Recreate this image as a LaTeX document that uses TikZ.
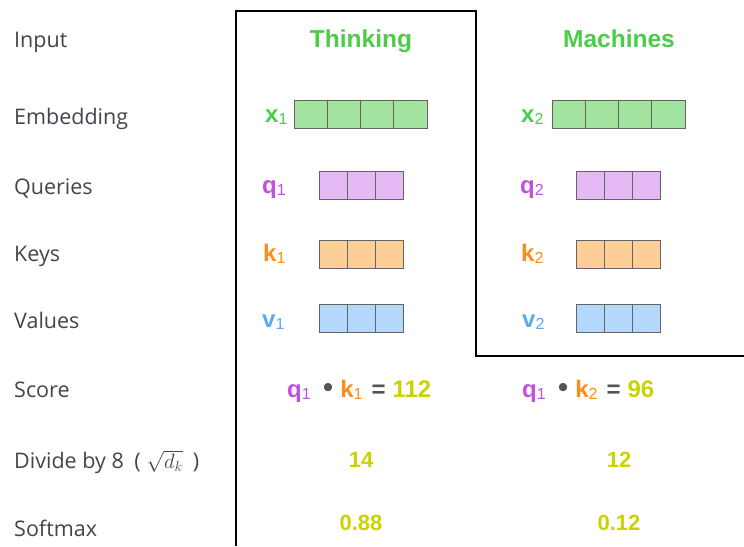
\documentclass[tikz,border=0pt]{standalone}
\usepackage{fontspec}
\setmainfont{Open Sans}
\newfontfamily\hv{Liberation Sans}
\definecolor{labelgray}{RGB}{66,70,76}
\definecolor{wgreen}{RGB}{76,204,72}
\definecolor{qpurple}{RGB}{192,80,225}
\definecolor{korange}{RGB}{255,140,26}
\definecolor{vblue}{RGB}{90,170,245}
\definecolor{numyellow}{RGB}{204,210,0}
\definecolor{opgray}{RGB}{80,85,90}
\definecolor{fgreen}{RGB}{163,228,160}
\definecolor{fpurple}{RGB}{229,185,243}
\definecolor{forange}{RGB}{253,206,150}
\definecolor{fblue}{RGB}{180,216,251}
\definecolor{cellgray}{RGB}{100,100,100}
\newcommand\vlab[2]{{\bfseries #1}\raisebox{-2pt}{\fontsize{16}{16}\selectfont #2}}
\newcommand\vecrow[6]{%
  \foreach \i in {1,...,#4}
    \node[cell, fill=#6, minimum width=#5] (#1-\i) at ({#2+(\i-0.5)*#5}, #3) {};}
\begin{document}
\begin{tikzpicture}[x=1pt,y=-1pt,
  rowlabel/.style={anchor=base west, inner sep=0, font=\fontsize{21.5}{24}\selectfont, text=labelgray},
  word/.style={anchor=base, inner sep=0, font=\hv\bfseries\fontsize{24.5}{26}\selectfont, text=wgreen},
  vlabel/.style={anchor=base west, inner sep=0, font=\hv\fontsize{24}{26}\selectfont},
  num/.style={anchor=base, inner sep=0, font=\hv\bfseries\fontsize{22}{24}\selectfont, text=numyellow},
  cell/.style={draw=cellgray, line width=1pt, minimum height=28, inner sep=0},
  frame/.style={draw=black, line width=2pt}]
\useasboundingbox (0,0) rectangle (744,546);
\fill[white] (0,0) rectangle (744,546);
% row labels
\node[rowlabel] (lInput) at (14,47) {Input};
\node[rowlabel] (lEmb) at (14,124) {Embedding};
\node[rowlabel] (lQ) at (14,194) {Queries};
\node[rowlabel] (lK) at (14,261) {Keys};
\node[rowlabel] (lV) at (14,328) {Values};
\node[rowlabel] (lS) at (14,397) {Score};
\node[rowlabel] (lD) at (14,468) {Divide by 8\hspace{5pt} (\hspace{6pt}{\fontsize{20}{20}\selectfont$\sqrt{d_k}$}\hspace{10pt})};
\node[rowlabel] (lSm) at (14,536) {Softmax};
% frame
\draw[frame] (236,546) -- (236,11) -- (476,11) -- (476,356) -- (744,356);
% words
\node[word] (w1) at (361,47) {Thinking};
\node[word] (w2) at (619,47) {Machines};
% vectors column 1
\vecrow{x1}{294}{114}{4}{33.25}{fgreen}
\vecrow{q1}{319}{185}{3}{28}{fpurple}
\vecrow{k1}{319}{254.5}{3}{28}{forange}
\vecrow{v1}{319}{318}{3}{28}{fblue}
% vectors column 2
\vecrow{x2}{552}{114}{4}{33.25}{fgreen}
\vecrow{q2}{576}{185}{3}{28}{fpurple}
\vecrow{k2}{576}{254.5}{3}{28}{forange}
\vecrow{v2}{576}{318}{3}{28}{fblue}
% vector labels
\node[vlabel, text=wgreen] (lx1) at (265,122) {\vlab{x}{1}};
\node[vlabel, text=qpurple] (lq1) at (262,193) {\vlab{q}{1}};
\node[vlabel, text=korange] (lk1) at (263,261) {\vlab{k}{1}};
\node[vlabel, text=vblue] (lv1) at (262,327) {\vlab{v}{1}};
\node[vlabel, text=wgreen] (lx2) at (521,122) {\vlab{x}{2}};
\node[vlabel, text=qpurple] (lq2) at (520,193) {\vlab{q}{2}};
\node[vlabel, text=korange] (lk2) at (521,261) {\vlab{k}{2}};
\node[vlabel, text=vblue] (lv2) at (522,327) {\vlab{v}{2}};
% scores
\node[vlabel] (s1) at (287,397) {\textcolor{qpurple}{\vlab{q}{1}}\hspace{12pt}\textcolor{opgray}{\fontsize{30}{30}\selectfont •}\hspace{7pt}\textcolor{korange}{\vlab{k}{1}}\hspace{9pt}\textcolor{opgray}{\bfseries =}\hspace{7pt}\textcolor{numyellow}{\bfseries 112}};
\node[vlabel] (s2) at (522,397) {\textcolor{qpurple}{\vlab{q}{1}}\hspace{12pt}\textcolor{opgray}{\fontsize{30}{30}\selectfont •}\hspace{7pt}\textcolor{korange}{\vlab{k}{2}}\hspace{9pt}\textcolor{opgray}{\bfseries =}\hspace{7pt}\textcolor{numyellow}{\bfseries 96}};
% divided
\node[num] (d1) at (361,467) {14};
\node[num] (d2) at (619,467) {12};
% softmax
\node[num] (m1) at (361,530) {0.88};
\node[num] (m2) at (619,530) {0.12};
\end{tikzpicture}
\end{document}
